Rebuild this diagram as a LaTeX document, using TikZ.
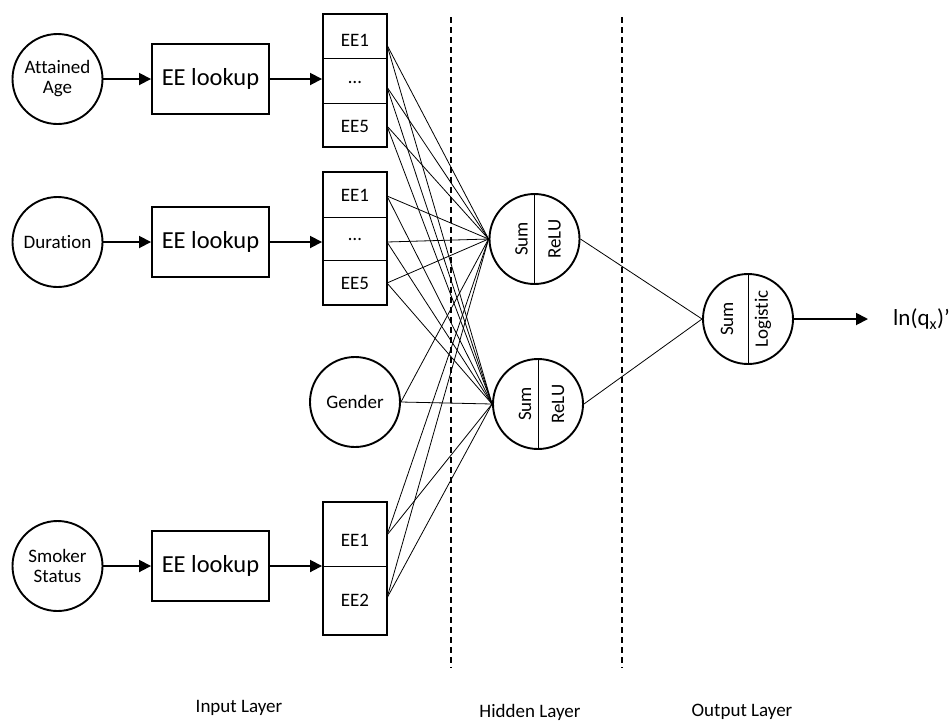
\documentclass[tikz,border=0pt]{standalone}
\usepackage{fontspec}
\setmainfont{Carlito}[Ligatures=NoCommon]
\usetikzlibrary{arrows.meta}
\begin{document}
\begin{tikzpicture}[x=1pt,y=-1pt,
  txt/.style={font=\fontsize{19}{22}\selectfont},
  circ/.style={circle,draw,line width=1.9pt,minimum size=90pt,inner sep=0pt,align=center,txt},
  lookup/.style={rectangle,draw,line width=1.9pt,minimum width=117pt,minimum height=70pt,inner sep=0pt,font=\fontsize{24.5}{28}\selectfont},
  stackbox/.style={rectangle,draw,line width=1.9pt,minimum width=64pt,minimum height=133pt,inner sep=0pt},
  rowtxt/.style={inner sep=0pt,txt},
  divline/.style={line width=0.9pt},
  conn/.style={line width=0.8pt},
  arr/.style={line width=1.8pt,-{Triangle[length=12pt,width=12pt]}},
  layer/.style={line width=1.5pt,dash pattern=on 6pt off 4pt},
  rot/.style={rotate=90,inner sep=0pt,txt}
]
\useasboundingbox (0,0) rectangle (950,721);

% --- input circles
\node[circ] (aa) at (57.5,79) {Attained\\[-2pt]Age};
\node[circ] (du) at (57.5,242) {Duration};
\node[circ] (sm) at (57.5,566) {Smoker\\[-2pt]Status};
\node[circ] (ge) at (355,402) {Gender};

% --- lookups
\node[lookup] (lk1) at (210.5,79) {EE lookup};
\node[lookup] (lk2) at (210.5,242) {EE lookup};
\node[lookup] (lk3) at (210.5,566) {EE lookup};

% --- stacks
\node[stackbox] (s1) at (355,80.5) {};
\draw[divline] (s1.west |- 0,58) -- (s1.east |- 0,58);
\draw[divline] (s1.west |- 0,103) -- (s1.east |- 0,103);
\node[rowtxt] (s1a) at (355,40) {EE1};
\node[rowtxt] (s1b) at (355,82) {…};
\node[rowtxt] (s1c) at (355,126) {EE5};

\node[stackbox] (s2) at (355,238.5) {};
\draw[divline] (s2.west |- 0,217) -- (s2.east |- 0,217);
\draw[divline] (s2.west |- 0,260) -- (s2.east |- 0,260);
\node[rowtxt] (s2a) at (355,195) {EE1};
\node[rowtxt] (s2b) at (355,239) {…};
\node[rowtxt] (s2c) at (355,283) {EE5};

\node[stackbox] (s3) at (355,568.5) {};
\draw[divline] (s3.west |- 0,566) -- (s3.east |- 0,566);
\node[rowtxt] (s3a) at (355,540) {EE1};
\node[rowtxt] (s3b) at (355,600) {EE2};

% --- arrows in input layer
\draw[arr] (aa.east) -- (lk1.west);
\draw[arr] (du.east) -- (lk2.west);
\draw[arr] (sm.east) -- (lk3.west);
\draw[arr] (lk1.east) -- (lk1.east -| s1.west);
\draw[arr] (lk2.east) -- (lk2.east -| s2.west);
\draw[arr] (lk3.east) -- (lk3.east -| s3.west);

% --- hidden nodes
\node[circ] (h1) at (534.5,239) {};
\node[circ] (h2) at (538,404) {};
\draw[divline] (h1.north) -- (h1.south);
\draw[divline] (h2.north) -- (h2.south);
\node[rot] at ([xshift=-13pt]h1.center) {Sum};
\node[rot] at ([xshift=20pt]h1.center) {ReLU};
\node[rot] at ([xshift=-13pt]h2.center) {Sum};
\node[rot] at ([xshift=20pt]h2.center) {ReLU};

% --- output node
\node[circ] (out) at (748,319) {};
\draw[divline] (out.north) -- (out.south);
\node[rot] at ([xshift=-21pt]out.center) {Sum};
\node[rot] at ([xshift=15pt]out.center) {Logistic};
\coordinate (qend) at (868,319);
\draw[arr] (out.east) -- (qend);
\node[anchor=west,inner sep=0pt,font=\fontsize{23}{26}\selectfont] (q) at (893,319) {ln(q\textsubscript{x})’};

% --- connection points on the stacks
\coordinate (p1) at (387,45);
\coordinate (p2) at (387,87);
\coordinate (p3) at (387,126);
\coordinate (p4) at (387,196);
\coordinate (p5) at (387,242);
\coordinate (p6) at (387,283);
\coordinate (p7) at (387,535);
\coordinate (p8) at (387,598);

\foreach \p in {p1,p2,p3,p4,p5,p6,p7,p8}{
  \draw[conn] (\p) -- (h1.west);
  \draw[conn] (\p) -- (h2.west);
}
\draw[conn] (ge.east) -- (h1.west);
\draw[conn] (ge.east) -- (h2.west);
\draw[conn] (h1.east) -- (out.west);
\draw[conn] (h2.east) -- (out.west);

% --- layer separators
\coordinate (d1t) at (451,17);
\coordinate (d1b) at (451,668);
\coordinate (d2t) at (622,17);
\coordinate (d2b) at (622,668);
\draw[layer] (d1t) -- (d1b);
\draw[layer] (d2t) -- (d2b);

% --- layer labels
\node[txt] (li) at (239,708) {Input Layer};
\node[txt] (lh) at (530,712) {Hidden Layer};
\node[txt] (lo) at (742,712) {Output Layer};
\end{tikzpicture}
\end{document}
